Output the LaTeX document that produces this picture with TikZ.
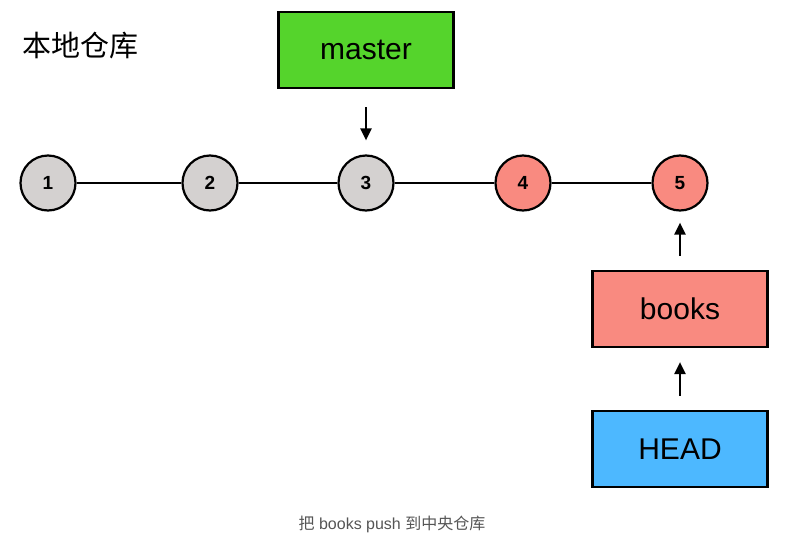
\documentclass[tikz,border=0pt]{standalone}
\usepackage{fontspec}
\setmainfont{Liberation Sans}
\newfontfamily\cjk{Noto Sans CJK SC}
\usepackage{tikz}
\usetikzlibrary{arrows.meta,positioning}
\definecolor{commitGray}{HTML}{D4D1D0}
\definecolor{commitRed}{HTML}{F98A80}
\definecolor{masterGreen}{HTML}{55D42C}
\definecolor{headBlue}{HTML}{4DB8FF}
\definecolor{captionGray}{HTML}{555555}

\begin{document}
\begin{tikzpicture}[x=1pt,y=-1pt,
    commit/.style={circle,draw=black,line width=2.2pt,minimum size=55pt,inner sep=0pt,
      font=\fontsize{19}{19}\selectfont\bfseries},
    branch/.style={rectangle,draw=black,line width=2.2pt,minimum width=175pt,minimum height=76pt,
      inner sep=0pt,font=\fontsize{30}{30}\selectfont},
    ptr/.style={-{Triangle[length=12pt,width=11pt]},line width=2.2pt}]
    \useasboundingbox (0,0) rectangle (804,544);

    \node[anchor=west,font=\cjk\fontsize{29}{29}\selectfont] (local) at (19,46) {本地仓库};

    % commits
    \node[commit,fill=commitGray] (c1) at (48,183) {1};
    \node[commit,fill=commitGray] (c2) at (210,183) {2};
    \node[commit,fill=commitGray] (c3) at (366,183) {3};
    \node[commit,fill=commitRed] (c4) at (523,183) {4};
    \node[commit,fill=commitRed] (c5) at (680,183) {5};
    \draw[line width=2.2pt] (c1) -- (c2) -- (c3) -- (c4) -- (c5);

    % branches
    \node[branch,fill=masterGreen] (master) at (366,50) {master};
    \node[branch,fill=commitRed] (books) at (680,309) {books};
    \node[branch,fill=headBlue] (head) at (680,449) {HEAD};

    \draw[ptr] ([yshift=-18pt]master.south) -- ([yshift=14pt]c3.north);
    \draw[ptr] ([yshift=14pt]books.north) -- ([yshift=-11pt]c5.south);
    \draw[ptr] ([yshift=14pt]head.north) -- ([yshift=-14pt]books.south);

    \node[text=captionGray,font=\fontsize{16}{16}\selectfont] (caption) at (392,524)
      {{\cjk 把} books push {\cjk 到中央仓库}};
\end{tikzpicture}
\end{document}
